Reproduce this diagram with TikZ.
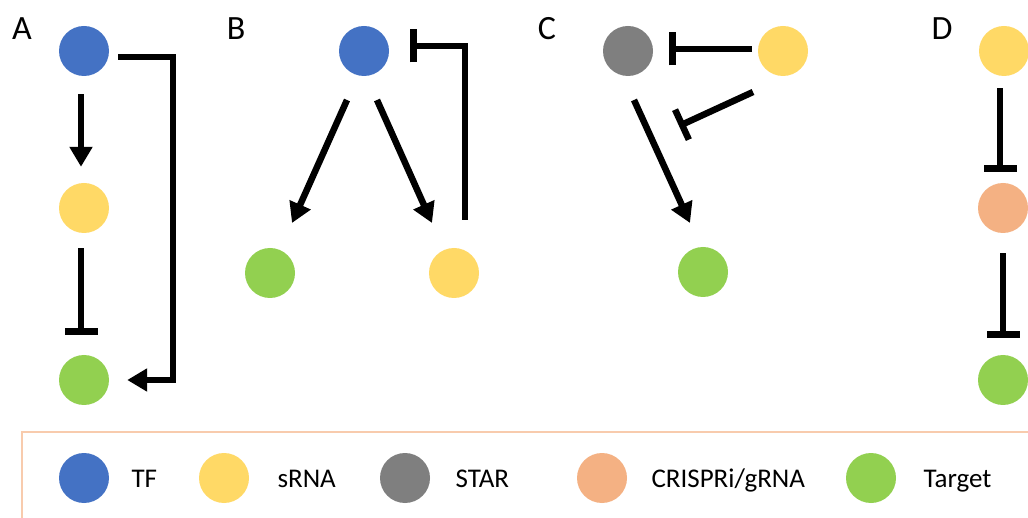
\documentclass[tikz,border=0pt]{standalone}
\usepackage{fontspec}
\setmainfont{Carlito}
\usetikzlibrary{arrows.meta}
\definecolor{tfc}{HTML}{4472C4}
\definecolor{srnac}{HTML}{FFD966}
\definecolor{starc}{HTML}{7F7F7F}
\definecolor{crisc}{HTML}{F4B183}
\definecolor{targc}{HTML}{92D050}
\definecolor{legc}{HTML}{F8CBAD}
\begin{document}
\begin{tikzpicture}[x=1pt,y=-1pt,
  mol/.style={circle,minimum size=50pt,inner sep=0pt,draw=none},
  act/.style={line width=6.5pt,-{Triangle[length=20pt,width=22pt]}},
  inh/.style={line width=6.5pt,-{Bar[width=33pt,line width=6.5pt]}},
  panel/.style={anchor=base,font=\fontsize{34}{34}\selectfont},
  legtext/.style={anchor=base west,font=\fontsize{27}{27}\selectfont}]
\clip (0,0) rectangle (1028,518);
\fill[white] (0,0) rectangle (1028,518);
% panel labels
\node[panel] (lA) at (22,40) {A};
\node[panel] (lB) at (236,40) {B};
\node[panel] (lC) at (547,40) {C};
\node[panel] (lD) at (942,40) {D};
% Panel A
\node[mol,fill=tfc] (a1) at (84,51) {};
\node[mol,fill=srnac] (a2) at (84,208) {};
\node[mol,fill=targc] (a3) at (84,380) {};
\draw[act,shorten <=18pt,shorten >=16pt] ([xshift=-3]a1.south) -- ([xshift=-3]a2.north);
\draw[inh,shorten <=15pt,shorten >=20pt] ([xshift=-3]a2.south) -- ([xshift=-3]a3.north);
\draw[act] ([shift={(9,6)}]a1.east) -- ++(55,0) |- ([xshift=18]a3.east);
% Panel B
\node[mol,fill=tfc] (b1) at (364,51) {};
\node[mol,fill=targc] (b2) at (270,273) {};
\node[mol,fill=srnac] (b3) at (454,273) {};
\draw[act] ([shift={(-17,49)}]b1.center) -- ([shift={(22,-50)}]b2.center);
\draw[act] ([shift={(13,49)}]b1.center) -- ([shift={(-22,-50)}]b3.center);
\draw[inh] ([shift={(11,-28)}]b3.north) |- ([shift={(21,-5)}]b1.east);
% Panel C
\node[mol,fill=starc] (c1) at (628,51) {};
\node[mol,fill=srnac] (c2) at (783,51) {};
\node[mol,fill=targc] (c3) at (703,272) {};
\draw[inh] ([shift={(-6,-2)}]c2.west) -- ([shift={(16,-2)}]c1.east);
\draw[act] ([shift={(6,49)}]c1.center) -- ([shift={(-13,-49)}]c3.center);
\coordinate (cs) at (753,92);
\coordinate (cm) at (679,126);
\draw[inh] (cs) -- (cm);
% Panel D
\node[mol,fill=srnac] (d1) at (1004,51) {};
\node[mol,fill=crisc] (d2) at (1003,208) {};
\node[mol,fill=targc] (d3) at (1003,380) {};
\draw[inh,shorten <=12pt,shorten >=11pt] ([xshift=-4]d1.south) -- ([xshift=-3]d2.north);
\draw[inh,shorten <=20pt,shorten >=17pt] (d2.south) -- (d3.north);
% Legend
\draw[legc,line width=2pt] (1040,432) -- (22,432) -- (22,530);
\node[mol,fill=tfc] (k1) at (84,478) {};
\node[legtext] (t1) at (128,487) {TF};
\node[mol,fill=srnac] (k2) at (224,478) {};
\node[legtext] (t2) at (274,487) {sRNA};
\node[mol,fill=starc] (k3) at (405,478) {};
\node[legtext] (t3) at (452,487) {STAR};
\node[mol,fill=crisc] (k4) at (602,478) {};
\node[legtext] (t4) at (648,487) {CRISPRi/gRNA};
\node[mol,fill=targc] (k5) at (871,478) {};
\node[legtext] (t5) at (920,487) {Target};
\end{tikzpicture}
\end{document}
